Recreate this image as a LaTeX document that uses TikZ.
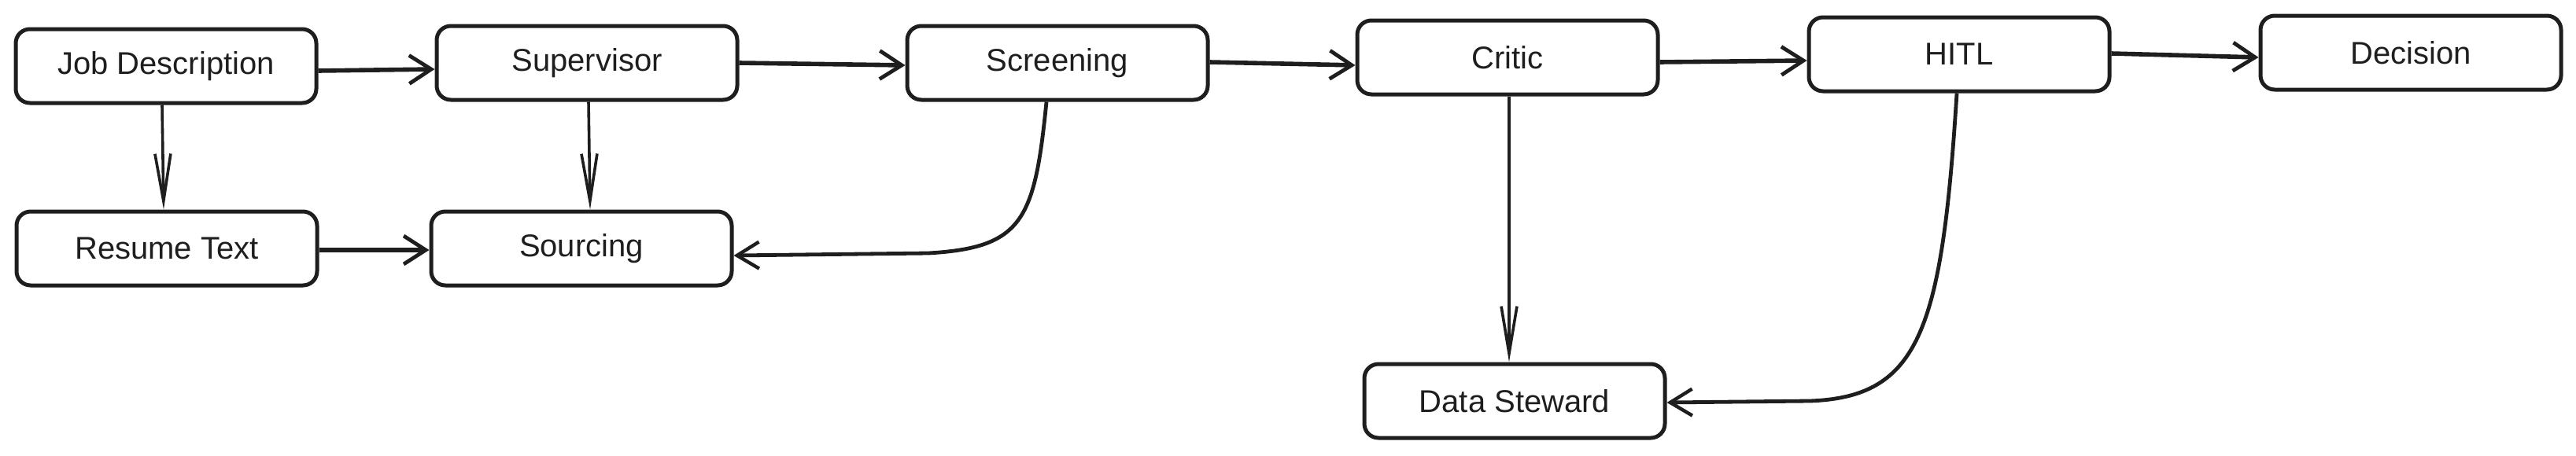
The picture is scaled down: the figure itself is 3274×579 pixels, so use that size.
\documentclass[tikz,border=0pt]{standalone}
\usepackage{fontspec}
\setmainfont{Liberation Sans}
\usetikzlibrary{arrows.meta}
\definecolor{ink}{HTML}{1E1E1E}
\begin{document}
\begin{tikzpicture}[x=0.5pt,y=-0.5pt,
  box/.style={draw=ink, line width=2.5pt, rounded corners=9pt, minimum width=191pt, minimum height=47pt, inner sep=0pt, text=ink, font=\fontsize{20}{22}\selectfont},
  thickarr/.style={draw=ink, line width=2.8pt, -{Straight Barb[length=14pt,width=18pt,line width=2.4pt]}},
  thinarr/.style={draw=ink, line width=1.8pt, -{Straight Barb[length=30pt,width=10pt,line width=1.8pt]}},
  curvearr/.style={draw=ink, line width=2.4pt, -{Straight Barb[length=14pt,width=17pt,line width=2.2pt]}}]
\useasboundingbox (0,0) rectangle (3274,579);
\node[box] (job) at (211,84) {Job Description};
\node[box] (sup) at (746,80) {Supervisor};
\node[box] (scr) at (1344,80) {Screening};
\node[box] (crit) at (1916,73) {Critic};
\node[box] (hitl) at (2490,69) {HITL};
\node[box] (dec) at (3064,67) {Decision};
\node[box] (res) at (212,316) {Resume Text};
\node[box] (src) at (739,316) {Sourcing};
\node[box] (ds) at (1925,510) {Data Steward};
% horizontal flow
\draw[thickarr] (job.east |- 0,90) -- (sup.west |- 0,88);
\draw[thickarr] (sup.east |- 0,80) -- (scr.west |- 0,83);
\draw[thickarr] (scr.east |- 0,79) -- (crit.west |- 0,83);
\draw[thickarr] (crit.east |- 0,79) -- (hitl.west |- 0,77);
\draw[thickarr] (hitl.east |- 0,68) -- (dec.west |- 0,73);
\draw[thickarr] (res.east |- 0,318) -- (src.west |- 0,318);
% vertical
\draw[thinarr] (job.south -| 206,0) -- (res.north -| 208,0);
\draw[thinarr] (sup.south -| 748,0) -- (src.north -| 750,0);
\draw[thinarr] (crit.south -| 1918,0) -- (ds.north -| 1918,0);
% curves
\draw[curvearr] (scr.south -| 1330,0) .. controls (1315,280) and (1300,315) .. (1180,322) -- (src.east |- 0,325);
\draw[curvearr] (hitl.south -| 2487,0) .. controls (2468,420) and (2440,505) .. (2300,510) -- (ds.east |- 0,512);
\end{tikzpicture}
\end{document}
